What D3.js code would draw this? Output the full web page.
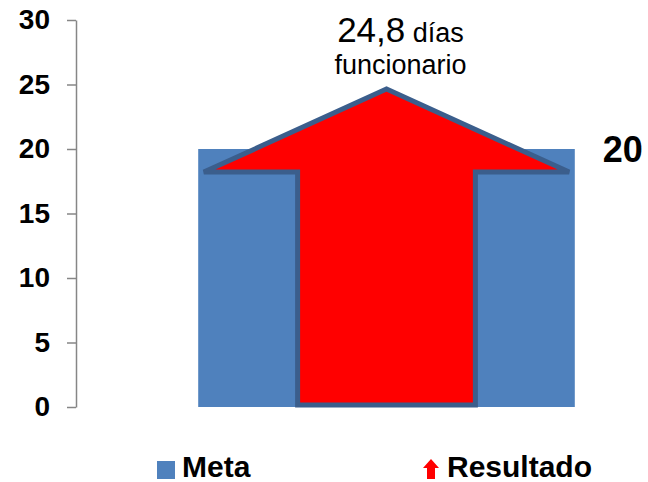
<!DOCTYPE html>
<html>
<head>
<meta charset="utf-8">
<script src="https://cdn.jsdelivr.net/npm/d3@7"></script>
<style>
  body { margin: 0; background: #fff; }
  svg { display: block; font-family: "Liberation Sans", Arial, sans-serif; }
</style>
</head>
<body>
<div id="chart"></div>
<script>
// Chart data
const categories = ["Indicador"];
const metaValues = [20];
const resultadoValues = [24.8];
const yTicks = [0, 5, 10, 15, 20, 25, 30];
const seriesNames = ["Meta", "Resultado"];
const resultadoLabel = ["24,8", "días", "funcionario"];

const width = 648, height = 482;

const svg = d3.select("#chart")
    .append("svg")
    .attr("width", width)
    .attr("height", height);

// Scales
const x = d3.scaleBand()
    .domain(categories)
    .range([76, 697])
    .padding(0.245);

const y = d3.scaleLinear()
    .domain([0, 30])
    .range([407, 20]);

// Meta bar
svg.selectAll(".meta")
    .data(metaValues)
    .enter().append("rect")
    .attr("class", "meta")
    .attr("x", (d, i) => x(categories[i]))
    .attr("y", d => y(d))
    .attr("width", x.bandwidth())
    .attr("height", d => y(0) - y(d))
    .style("fill", "#4F81BD");

// Resultado drawn as a big arrow
const headHeight = 83;
function arrowPath(d, i) {
    const cx = x(categories[i]) + x.bandwidth() / 2;
    const bw = x.bandwidth();
    const headHalf = bw * 0.485;
    const shaftHalf = bw * 0.236;
    const tip = y(d) + 2;
    const base = tip + headHeight;
    const bottom = y(0) - 2;
    return "M" + (cx - shaftHalf) + "," + bottom +
        "L" + (cx - shaftHalf) + "," + base +
        "L" + (cx - headHalf) + "," + base +
        "L" + cx + "," + tip +
        "L" + (cx + headHalf) + "," + base +
        "L" + (cx + shaftHalf) + "," + base +
        "L" + (cx + shaftHalf) + "," + bottom + "Z";
}

svg.selectAll(".resultado")
    .data(resultadoValues)
    .enter().append("path")
    .attr("class", "resultado")
    .attr("d", arrowPath)
    .style("fill", "#FF0000")
    .style("stroke", "#3B5E8C")
    .style("stroke-width", 5)
    .style("stroke-linejoin", "miter");

// Y axis
const yAxis = svg.append("g")
    .attr("transform", "translate(76,0)")
    .call(d3.axisLeft(y).tickValues(yTicks).tickSize(9).tickSizeOuter(0).tickPadding(17));
yAxis.selectAll("path, line").attr("stroke", "#868686").attr("stroke-width", 1.5);
yAxis.selectAll("text")
    .attr("fill", "#000")
    .style("font-size", "28px")
    .style("font-weight", "bold")
    .style("font-family", "'Liberation Sans', Arial, sans-serif");

// Meta value label
svg.selectAll(".meta-label")
    .data(metaValues)
    .enter().append("text")
    .attr("class", "meta-label")
    .attr("x", (d, i) => x(categories[i]) + x.bandwidth() + 28)
    .attr("y", d => y(d))
    .attr("dy", "0.37em")
    .style("font-size", "36px")
    .style("font-weight", "bold")
    .text(d => d);

// Resultado value label
const labelX = x(categories[0]) + x.bandwidth() / 2 + 14;
const lbl = svg.append("text")
    .attr("x", labelX)
    .attr("y", 42)
    .attr("text-anchor", "middle");
lbl.append("tspan").style("font-size", "35px").text(resultadoLabel[0]);
lbl.append("tspan").style("font-size", "27px").text(" " + resultadoLabel[1]);
svg.append("text")
    .attr("x", labelX)
    .attr("y", 74)
    .attr("text-anchor", "middle")
    .style("font-size", "27px")
    .text(resultadoLabel[2]);

// Legend
const legend = svg.append("g");
legend.append("rect")
    .attr("x", 157).attr("y", 461)
    .attr("width", 18).attr("height", 18)
    .style("fill", "#4F81BD");
legend.append("text")
    .attr("x", 182).attr("y", 477)
    .style("font-size", "30px")
    .style("font-weight", "bold")
    .text(seriesNames[0]);

legend.append("path")
    .attr("d", "M427,479 L427,468 L423,468 L431,459 L439,468 L435,468 L435,479 Z")
    .style("fill", "#FF0000");
legend.append("text")
    .attr("x", 447).attr("y", 477)
    .style("font-size", "30px")
    .style("font-weight", "bold")
    .text(seriesNames[1]);
</script>
</body>
</html>
